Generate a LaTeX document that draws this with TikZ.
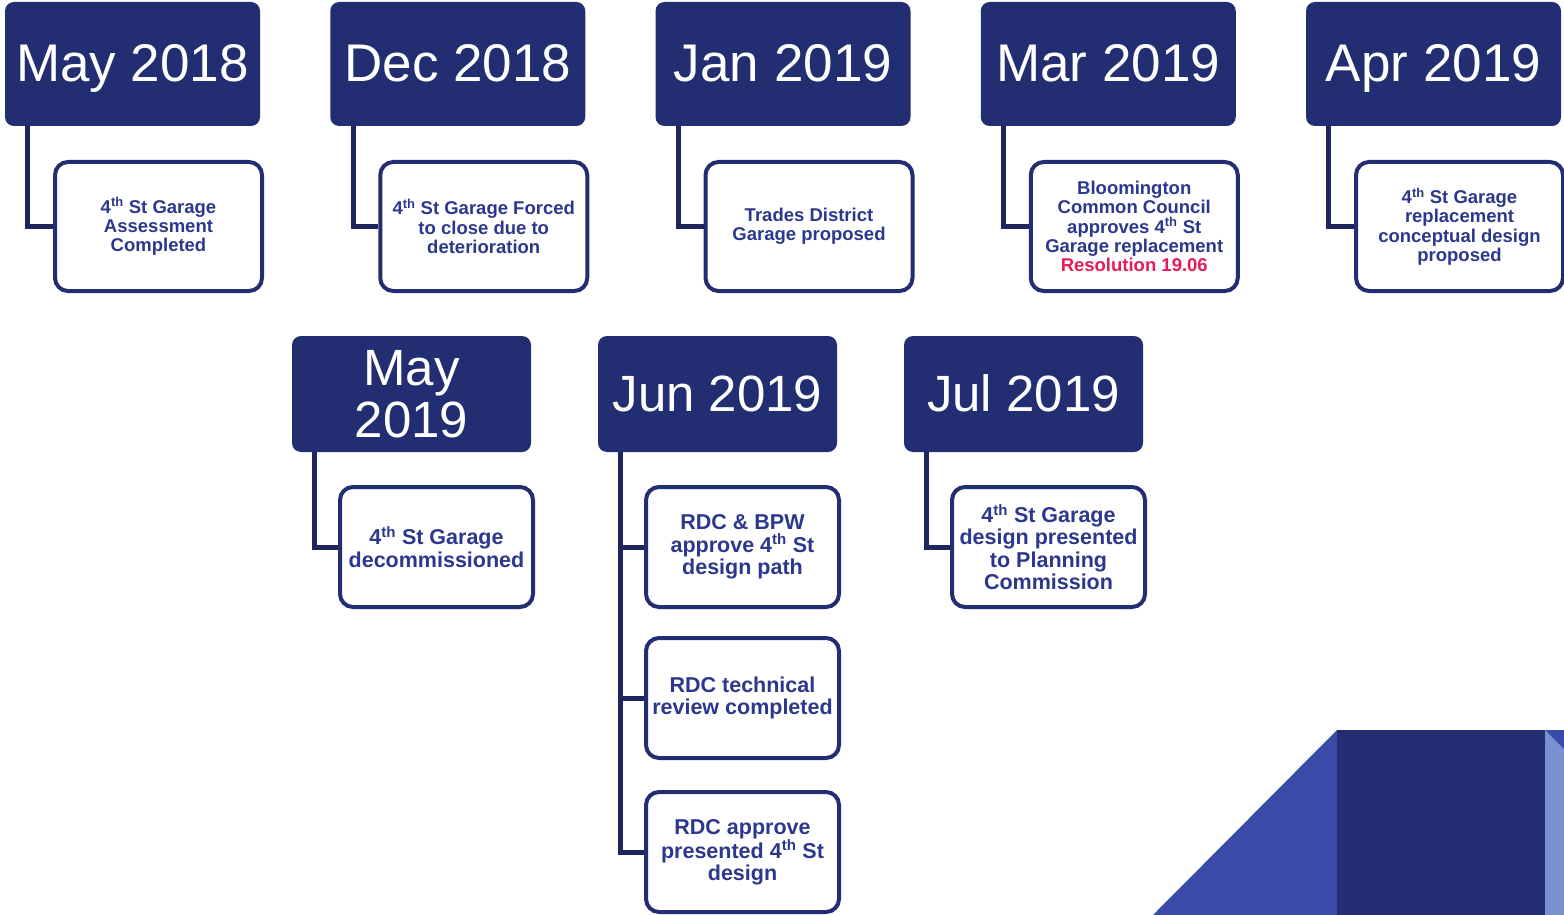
\documentclass[tikz,border=0pt]{standalone}
\usepackage{fontspec}
\setmainfont{Liberation Sans}
\definecolor{navy}{RGB}{34,45,114}
\definecolor{boxtext}{RGB}{44,56,142}
\definecolor{linknavy}{RGB}{30,38,94}
\definecolor{resred}{RGB}{232,27,88}
\definecolor{midblue}{RGB}{58,74,168}
\definecolor{paleblue}{RGB}{122,144,206}
\begin{document}
\begin{tikzpicture}
[x=1pt, y=-1pt,
month/.style={rectangle, rounded corners=9pt, fill=navy, text=white, inner sep=0pt, minimum width=255pt, minimum height=124pt, text height=38pt, text depth=2pt, font=\fontsize{53}{53}\selectfont},
monthlow/.style={month, minimum width=239pt, minimum height=116pt, text height=36pt, font=\fontsize{51}{52}\selectfont},
event/.style={rectangle, rounded corners=13pt, draw=navy, line width=4pt, fill=white, text=boxtext, inner sep=0pt, minimum width=207pt, minimum height=129pt, align=center, font=\bfseries\fontsize{18.5}{19.4}\selectfont},
eventlow/.style={event, minimum width=193pt, minimum height=120pt, font=\bfseries\fontsize{21.5}{22.3}\selectfont},
link/.style={draw=linknavy, line width=5pt}]
\useasboundingbox (0,0) rectangle (1564,915);
% corner shapes
\fill[midblue] (1153,915) -- (1337,730) -- (1337,915) -- cycle;
\fill[navy] (1337,730) rectangle (1545,915);
\fill[paleblue] (1545,730) rectangle (1564,915);
\fill[midblue] (1545,730) -- (1564,730) -- (1564,749) -- cycle;
% first row
\node [month] (may18) at (132.5,64) {May 2018};
\node [month] (dec18) at (457.75,64) {Dec 2018};
\node [month] (jan19) at (783,64) {Jan 2019};
\node [month] (mar19) at (1108.25,64) {Mar 2019};
\node [month] (apr19) at (1433.5,64) {Apr 2019};
\node [event] (may18a) at (158.5,226.5) {4\textsuperscript{th} St Garage\\Assessment\\Completed};
\node [event] (dec18a) at (483.75,226.5) {4\textsuperscript{th} St Garage Forced\\to close due to\\deterioration};
\node [event] (jan19a) at (809,226.5) {Trades District\\Garage proposed};
\node [event] (mar19a) at (1134.25,226.5) {Bloomington\\Common Council\\approves 4\textsuperscript{th} St\\Garage replacement\\\textcolor{resred}{Resolution 19.06}};
\node [event] (apr19a) at (1459.5,226.5) {4\textsuperscript{th} St Garage\\replacement\\conceptual design\\proposed};
\draw [link] ([xshift=23pt]may18.south west) |- (may18a.west);
\draw [link] ([xshift=23pt]dec18.south west) |- (dec18a.west);
\draw [link] ([xshift=23pt]jan19.south west) |- (jan19a.west);
\draw [link] ([xshift=23pt]mar19.south west) |- (mar19a.west);
\draw [link] ([xshift=23pt]apr19.south west) |- (apr19a.west);
% second row
\node [monthlow, text height=, text depth=, align=center] (may19) at (411.5,394) {May\\2019};
\node [monthlow] (jun19) at (717.5,394) {Jun 2019};
\node [monthlow] (jul19) at (1023.5,394) {Jul 2019};
\node [eventlow] (may19a) at (436.5,547) {4\textsuperscript{th} St Garage\\decommissioned};
\node [eventlow] (jun19a) at (742.5,547) {RDC \& BPW\\approve 4\textsuperscript{th} St\\design path};
\node [eventlow] (jun19b) at (742.5,698) {RDC technical\\review completed};
\node [eventlow] (jun19c) at (742.5,852) {RDC approve\\presented 4\textsuperscript{th} St\\design};
\node [eventlow] (jul19a) at (1048.5,547) {4\textsuperscript{th} St Garage\\design presented\\to Planning\\Commission};
\draw [link] ([xshift=23pt]may19.south west) |- (may19a.west);
\draw [link] ([xshift=23pt]jun19.south west) |- (jun19a.west);
\draw [link] ([xshift=23pt]jun19.south west) |- (jun19b.west);
\draw [link] ([xshift=23pt]jun19.south west) |- (jun19c.west);
\draw [link] ([xshift=23pt]jul19.south west) |- (jul19a.west);
\end{tikzpicture}
\end{document}
